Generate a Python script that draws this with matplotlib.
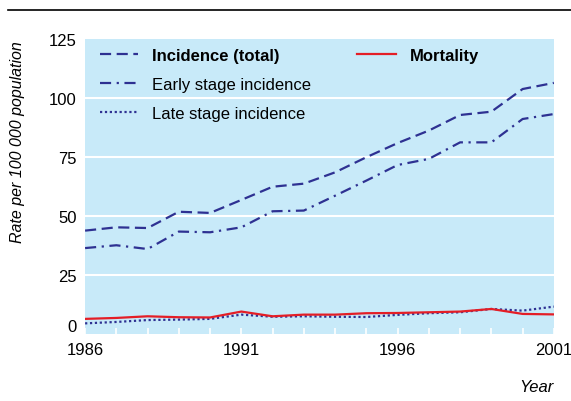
import matplotlib
matplotlib.use("Agg")
import matplotlib.pyplot as plt
from matplotlib.lines import Line2D
import matplotlib.font_manager as fm

years = list(range(1986, 2002))
incidence_total = [43.8, 45.2, 44.9, 51.8, 51.3, 56.8, 62.4, 63.7, 68.5, 74.9, 80.9, 86.2, 92.8, 94.2, 103.8, 106.4]
early_stage = [36.4, 37.6, 36.0, 43.4, 43.1, 45.2, 52.0, 52.3, 58.6, 65.0, 71.6, 74.2, 81.2, 81.2, 91.1, 93.2]
late_stage = [4.5, 5.1, 5.9, 6.1, 6.4, 8.2, 7.3, 7.5, 7.3, 7.2, 8.1, 8.8, 9.2, 10.6, 9.9, 11.6]
mortality = [6.4, 6.8, 7.5, 7.1, 7.0, 9.5, 7.5, 8.2, 8.2, 8.8, 8.9, 9.2, 9.5, 10.6, 8.5, 8.3]
yticks = [0, 25, 50, 75, 100, 125]
xticks = [1986, 1991, 1996, 2001]

names = {f.name for f in fm.fontManager.ttflist}
fam = 'Liberation Sans Narrow' if 'Liberation Sans Narrow' in names else 'Liberation Sans'
plt.rcParams['font.family'] = [fam, 'DejaVu Sans']

navy = '#2e3192'
red = '#e41e26'
bg = '#c8eaf9'

fig = plt.figure(figsize=(5.71, 4.02), dpi=100)
ax = fig.add_axes([0.149, 0.1667, 0.821, 0.7338])
ax.set_facecolor(bg)
for s in ax.spines.values():
    s.set_visible(False)

ax.set_xlim(1986, 2001)
ax.set_ylim(0, 125)
for v in yticks[1:-1]:
    ax.axhline(v, color='white', lw=1.5, zorder=1)

l1, = ax.plot(years, incidence_total, color=navy, lw=1.6, ls=(0, (5, 2.5)), zorder=3)
l2, = ax.plot(years, early_stage, color=navy, lw=1.6, ls=(0, (5, 2.5, 1, 2.5)), zorder=3)
l3, = ax.plot(years, late_stage, color=navy, lw=1.6, ls=(0, (1, 1.2)), zorder=3)
l4, = ax.plot(years, mortality, color=red, lw=1.6, zorder=4)

ax.set_yticks(yticks)
ax.set_yticklabels([str(v) for v in yticks], fontsize=12)
ax.tick_params(axis='y', length=0, pad=6)
ax.set_xticks(range(1986, 2002), minor=True)
ax.set_xticks(xticks)
ax.set_xticklabels([str(v) for v in xticks], fontsize=12)
ax.tick_params(axis='x', which='both', direction='in', length=4, color='white', width=1.2, pad=6)
for lab in ax.get_yticklabels():
    if lab.get_text() == '0':
        lab.set_va('bottom')

common = dict(loc='upper left', frameon=False, fontsize=12, handlelength=2.3,
              handletextpad=0.85, labelspacing=0.83, borderaxespad=0.0, borderpad=0.55)
leg1 = ax.legend([l1, l2, l3], ['Incidence (total)', 'Early stage incidence', 'Late stage incidence'],
                 bbox_to_anchor=(0.012, 1.0), **common)
leg1.get_texts()[0].set_fontweight('bold')
ax.add_artist(leg1)
leg2 = ax.legend([l4], ['Mortality'], bbox_to_anchor=(0.561, 1.0), **common)
leg2.get_texts()[0].set_fontweight('bold')

fig.text(0.03, 0.647, 'Rate per 100 000 population', rotation=90, style='italic',
         fontsize=11.5, ha='center', va='center')
fig.text(0.97, 0.035, 'Year', style='italic', fontsize=12, ha='right', va='center')
fig.add_artist(Line2D([0.014, 1.0], [0.973, 0.973], color='black', lw=1.2, transform=fig.transFigure))

fig.savefig('out.png', dpi=100)
